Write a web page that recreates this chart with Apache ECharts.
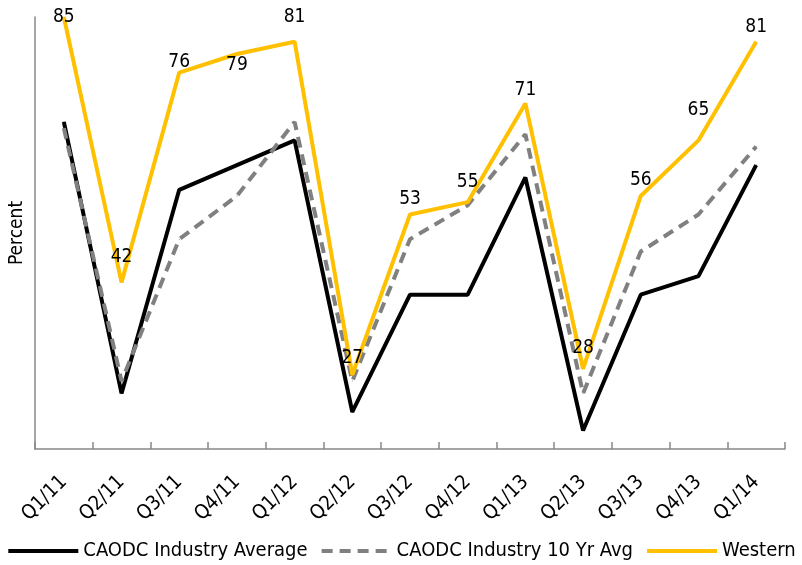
<!DOCTYPE html>
<html>
<head>
<meta charset="utf-8">
<script src="https://cdn.jsdelivr.net/npm/echarts@6/dist/echarts.min.js"></script>
<style>
  html, body { margin: 0; padding: 0; background: #fff; }
  #chart { width: 802px; height: 565px; }
</style>
</head>
<body>
<div id="chart"></div>
<script>
// Drilling rig utilization by quarter, Q1/2011 – Q1/2014
const quarters = ['Q1/11', 'Q2/11', 'Q3/11', 'Q4/11', 'Q1/12', 'Q2/12', 'Q3/12',
                  'Q4/12', 'Q1/13', 'Q2/13', 'Q3/13', 'Q4/13', 'Q1/14'];
const industryAverage = [68, 24, 57, 61, 65, 21, 40, 40, 59, 18, 40, 43, 61];
const industryTenYearAvg = [67, 26, 49, 56, 68, 26, 49, 54.5, 66, 24, 47, 53, 64];
const western = [85, 42, 76, 79, 81, 27, 53, 55, 71, 28, 56, 65, 81];

const FONT = '"Liberation Sans Narrow", "Arial Narrow", "DejaVu Sans Condensed", sans-serif';

// Label placement for the Western series, so labels stay clear of the lines
const labelGap = [0, 15, 0, 1, 15, 7, 5, 10, 3, 11, 6, 20, 5];
const labelPos = ['inside', 'top', 'top', 'bottom', 'top', 'top', 'top', 'top', 'top', 'top', 'top', 'top', 'top'];

const westernData = western.map((v, i) => ({
  value: v,
  label: { position: labelPos[i], distance: labelGap[i] }
}));

const chart = echarts.init(document.getElementById('chart'), null, { renderer: 'canvas' });

// Tiny markers keep the point labels alive; the 4px lines cover them
const hiddenMarker = { symbol: 'circle', symbolSize: 1, showSymbol: true };

chart.setOption({
  animation: false,
  textStyle: { fontFamily: FONT },
  grid: { left: 35, right: 17, top: 17, bottom: 116 },
  legend: {
    bottom: -1,
    left: 'center',
    itemWidth: 70,
    itemHeight: 14,
    itemGap: 12,
    lineStyle: { width: 4 },
    itemStyle: { opacity: 0 },
    textStyle: { fontFamily: FONT, fontSize: 20, color: '#000' },
    data: ['CAODC Industry Average', 'CAODC Industry 10 Yr Avg', 'Western']
  },
  xAxis: {
    type: 'category',
    data: quarters,
    boundaryGap: true,
    axisLine: { lineStyle: { color: '#888', width: 1.5 } },
    axisTick: { show: true, inside: true, length: 7, lineStyle: { color: '#888', width: 1.5 } },
    axisLabel: {
      rotate: 45,
      interval: 0,
      margin: 30,
      fontFamily: FONT,
      fontSize: 20,
      color: '#000'
    }
  },
  yAxis: {
    type: 'value',
    min: 15,
    max: 85,
    name: 'Percent',
    nameLocation: 'middle',
    nameGap: 8,
    nameTextStyle: { fontFamily: FONT, fontSize: 19, color: '#000' },
    axisLine: { show: true, lineStyle: { color: '#888', width: 1.5 } },
    axisTick: { show: false },
    axisLabel: { show: false },
    splitLine: { show: false }
  },
  series: [
    Object.assign({
      name: 'CAODC Industry Average',
      type: 'line',
      data: industryAverage,
      lineStyle: { color: '#000', width: 4 },
      itemStyle: { color: '#000' }
    }, hiddenMarker),
    Object.assign({
      name: 'CAODC Industry 10 Yr Avg',
      type: 'line',
      data: industryTenYearAvg,
      lineStyle: { color: '#808080', width: 4, type: [11, 7] },
      itemStyle: { color: '#808080' }
    }, hiddenMarker),
    Object.assign({
      name: 'Western',
      type: 'line',
      data: westernData,
      lineStyle: { color: '#FFC000', width: 4 },
      itemStyle: { color: '#FFC000' },
      label: {
        show: true,
        fontFamily: FONT,
        fontSize: 19,
        color: '#000'
      }
    }, hiddenMarker)
  ]
});
</script>
</body>
</html>
